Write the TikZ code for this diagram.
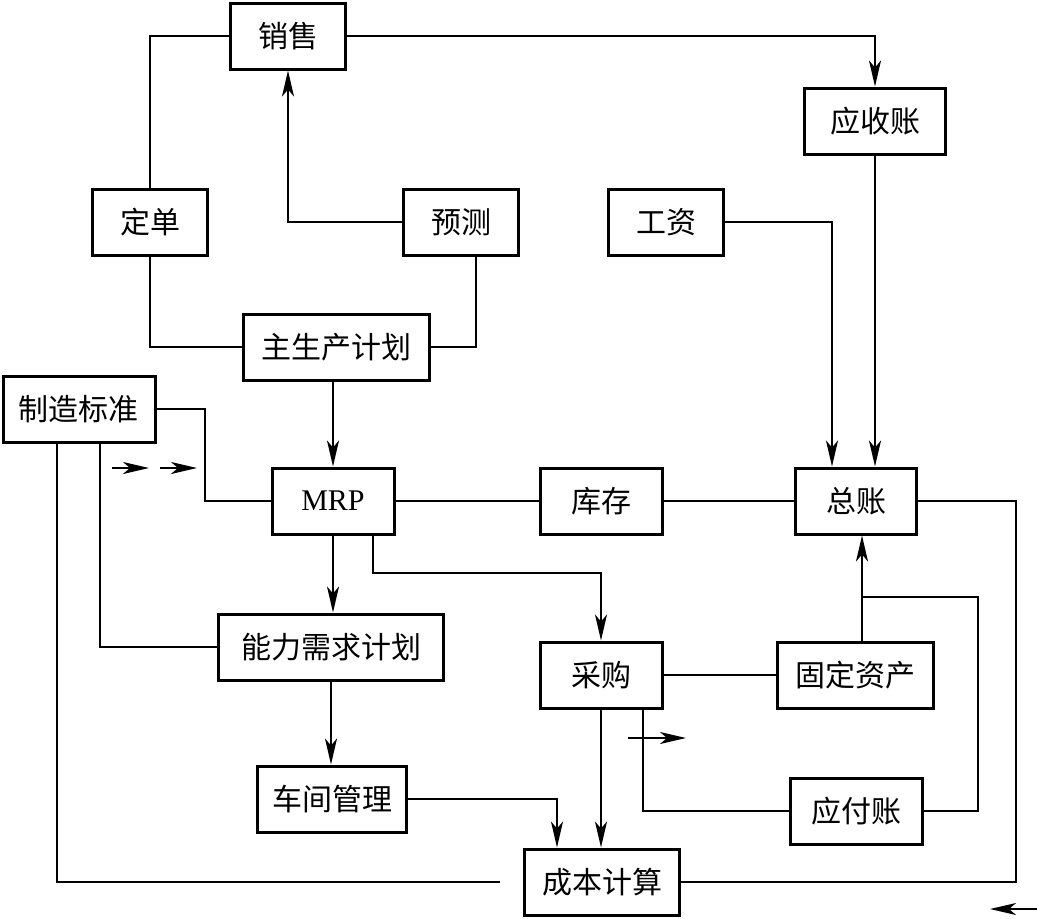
\documentclass[tikz,border=0pt]{standalone}
\usepackage{fontspec}
\setmainfont{Liberation Serif}
\newfontfamily\cjk{Noto Sans CJK SC}
\usetikzlibrary{arrows.meta, positioning}

\tikzset{
  box/.style={draw, line width=3pt, minimum height=66pt, inner sep=0pt,
    font=\cjk\fontsize{30}{30}\selectfont},
  wd/.style={minimum width=#1},
  link/.style={line width=2pt},
  flow/.style={link, -{Stealth[length=26pt, width=12pt, inset=7pt]}},
}

\begin{document}
\begin{tikzpicture}[x=1pt, y=-1pt]
        \useasboundingbox (0,0) rectangle (1037,919);

        % Top row
        \node[box, wd=115pt] (xiaoshou) at (288,36) {销售};
        \node[box, wd=141pt] (yingshou) at (875,121) {应收账};

        % Order, forecast, wages
        \node[box, wd=115pt] (dingdan) at (150,222) {定单};
        \node[box, wd=115pt] (yuce) at (461,222) {预测};
        \node[box, wd=115pt] (gongzi) at (666,222) {工资};

        % Master schedule and standards
        \node[box, wd=186pt] (zsc) at (336,347) {主生产计划};
        \node[box, wd=152pt] (zzbz) at (79,409) {制造标准};

        % MRP row
        \node[box, wd=122pt, font=\fontsize{30}{30}\selectfont] (mrp) at (333,501) {MRP};
        \node[box, wd=122pt] (kucun) at (601,501) {库存};
        \node[box, wd=121pt] (zongzhang) at (856,501) {总账};

        % Lower rows
        \node[box, wd=225pt] (nl) at (331,647) {能力需求计划};
        \node[box, wd=122pt] (caigou) at (601,675) {采购};
        \node[box, wd=156pt] (gdzc) at (855,675) {固定资产};
        \node[box, wd=149pt] (cj) at (332,799) {车间管理};
        \node[box, wd=132pt] (yingfu) at (856,811) {应付账};
        \node[box, wd=155pt] (cb) at (602,882) {成本计算};

        % Sales links
        \draw[link] (dingdan.north) |- (xiaoshou.west);
        \draw[flow] (yuce.west) -| (xiaoshou.south);
        \draw[flow] (xiaoshou.east) -| (yingshou.north);
        \draw[link] (dingdan.south) |- (zsc.west);
        \draw[link] (zsc.east) -| ([xshift=15pt]yuce.south);

        % Into the ledger
        \draw[flow] (gongzi.east) -| ([xshift=-24pt]zongzhang.north);
        \draw[flow] (yingshou.south) -- (yingshou.south |- zongzhang.north);

        % MRP
        \draw[flow] (mrp.north |- zsc.south) -- (mrp.north);
        \draw[link] (zzbz.east) -- ++(48,0) |- (mrp.west);
        \draw[link] ([xshift=21pt]zzbz.south) |- (nl.west);
        \draw[link] ([xshift=-22pt]zzbz.south) |- ([xshift=-23pt]cb.west);
        \draw[flow] (mrp.south) -- (mrp.south |- nl.north);
        \draw[flow] ([xshift=40pt]mrp.south) -- ++(0,37) -| (caigou.north);
        \draw[link] (mrp.east) -- (kucun.west);
        \draw[link] (kucun.east) -- (zongzhang.west);
        \draw[link] (zongzhang.east) -- ++(98,0) |- (cb.east);

        % Workshop and costing
        \draw[flow] (nl.south) -- (nl.south |- cj.north);
        \draw[flow] (cj.east) -| ([xshift=-45pt]cb.north);
        \draw[flow] (caigou.south) -- (caigou.south |- cb.north);

        % Purchasing, assets, payables
        \coordinate (fa) at (862,597);
        \draw[link] ([xshift=42pt]caigou.south) |- (yingfu.west);
        \draw[link] (caigou.east) -- (caigou.east -| gdzc.west);
        \draw[flow] (gdzc.north -| fa) -- (zongzhang.south -| fa);
        \draw[link] (yingfu.east) -- ++(54,0) |- (fa);

        % Direction marks
        \coordinate (d1) at (112,468);
        \coordinate (d2) at (160,468);
        \coordinate (d3) at (628,738);
        \coordinate (d4) at (1037,909);
        \draw[flow] (d1) -- ++(37,0);
        \draw[flow] (d2) -- ++(37,0);
        \draw[flow] (d3) -- ++(58,0);
        \draw[flow] (d4) -- ++(-47,0);

    \end{tikzpicture}
\end{document}
